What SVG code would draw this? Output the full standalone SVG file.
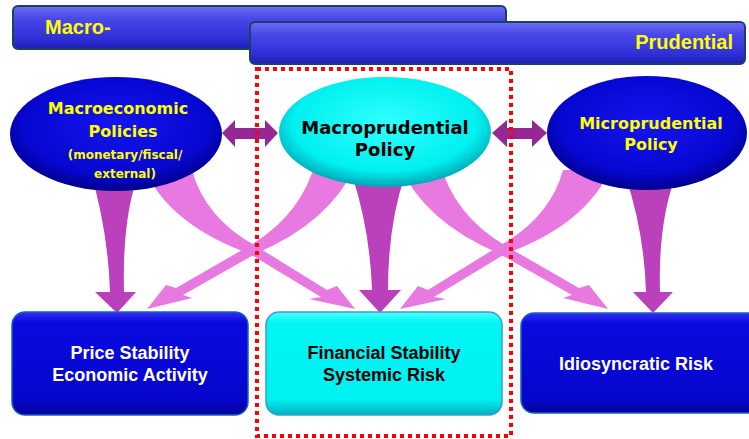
<svg xmlns="http://www.w3.org/2000/svg" width="749" height="439" viewBox="0 0 749 439">
<defs>
<linearGradient id="gBar" x1="0" y1="0" x2="0" y2="1">
<stop offset="0" stop-color="#6C6CF6"/><stop offset="0.3" stop-color="#4848E8"/><stop offset="0.75" stop-color="#3030D8"/><stop offset="1" stop-color="#1E1EB4"/>
</linearGradient>
<radialGradient id="gBlueEll" cx="50%" cy="42%" r="58%">
<stop offset="0" stop-color="#1414EE"/><stop offset="0.75" stop-color="#0707D2"/><stop offset="1" stop-color="#00008C"/>
</radialGradient>
<radialGradient id="gCyanEll" cx="50%" cy="42%" r="58%">
<stop offset="0" stop-color="#30FFFF"/><stop offset="0.75" stop-color="#00F0F0"/><stop offset="1" stop-color="#00A5B5"/>
</radialGradient>
<linearGradient id="gBlueBox" x1="0" y1="0" x2="0" y2="1">
<stop offset="0" stop-color="#3030F2"/><stop offset="0.1" stop-color="#0A0AE0"/><stop offset="0.85" stop-color="#0606CC"/><stop offset="1" stop-color="#03039A"/>
</linearGradient>
<linearGradient id="gCyanBox" x1="0" y1="0" x2="0" y2="1">
<stop offset="0" stop-color="#50FFFF"/><stop offset="0.1" stop-color="#00F6F6"/><stop offset="0.85" stop-color="#00F0F0"/><stop offset="1" stop-color="#00B0C2"/>
</linearGradient>
<style>
.bar{fill:url(#gBar);stroke:#1C3F66;stroke-width:2}
.ybig{font-family:"Liberation Sans",Arial,sans-serif;font-weight:bold;font-size:20px;fill:#FFFF00}
.ell{font-family:"DejaVu Sans",Verdana,sans-serif;font-weight:bold;text-anchor:middle}
.box{font-family:"Liberation Sans",Arial,sans-serif;font-weight:bold;font-size:18px;text-anchor:middle}
.down{fill:#BB40BB}
.diag{fill:#E879E1}
.dbl{fill:#962896}
.bbox{fill:url(#gBlueBox);stroke:#1A5FC0;stroke-width:1.5}
.cbox{fill:url(#gCyanBox);stroke:#3A9EC8;stroke-width:1.5}
</style>
</defs>
<rect width="749" height="439" fill="#FFFFFF"/>

<g id="bar-macro">
<rect class="bar" x="13" y="6" width="493" height="43" rx="5"/>
<text class="ybig" x="45" y="34">Macro-</text>
</g>
<g id="bar-prudential">
<rect class="bar" x="250" y="22" width="495" height="42" rx="5"/>
<text class="ybig" x="733" y="49" text-anchor="end">Prudential</text>
</g>

<g id="connectors">
<path class="diag" d="M145,170 Q170,225 250,254 L321,297 L309,299 L355,309 L337,286 L327,290 L256,246 Q205,218 192,170 Z"/>
<path class="diag" d="M316,160 Q302,215 249,246 L176,288 L166,285 L147,309 L192,298 L183,295 L257,253 Q330,222 356,165 Z"/>
<g transform="translate(755,0) scale(-1,1)">
<path class="diag" d="M145,170 Q170,225 250,254 L321,297 L309,299 L355,309 L337,286 L327,290 L256,246 Q205,218 192,170 Z"/>
<path class="diag" d="M316,160 Q302,215 249,246 L176,288 L166,285 L147,309 L192,298 L183,295 L257,253 Q330,222 356,165 Z"/>
</g>
<path class="down" d="M90,170 Q108,230 110,292 L95,292 L117,313 L136,292 L124,292 Q122,215 140,170 Z"/>
<path class="down" d="M352,175 Q370,230 372,290 L359,290 L380,313 L401,290 L388,290 Q388,225 405,175 Z"/>
<path class="down" d="M625,175 Q644,230 646,292 L633,292 L653,313 L673,292 L660,292 Q658,222 676,175 Z"/>
<path class="dbl" d="M222,133 L235,120 L235,128 L265,128 L265,120 L278,133 L265,147 L265,139 L235,139 L235,147 Z"/>
<path class="dbl" d="M492,133 L507,120 L507,128 L532,128 L532,120 L547,133 L532,147 L532,139 L507,139 L507,147 Z"/>
</g>

<g id="macroeconomic-policies">
<ellipse cx="116" cy="134" rx="106" ry="57" fill="url(#gBlueEll)"/>
<text class="ell" x="118" y="114" font-size="16" fill="#FFFF00">Macroeconomic</text>
<text class="ell" x="123" y="137" font-size="16" fill="#FFFF00">Policies</text>
<text class="ell" x="125" y="159" font-size="12" fill="#FFFF00">(monetary/fiscal/</text>
<text class="ell" x="125" y="178" font-size="12" fill="#FFFF00">external)</text>
</g>
<g id="macroprudential-policy">
<ellipse cx="385" cy="132" rx="106" ry="55" fill="url(#gCyanEll)"/>
<text class="ell" x="385" y="134" font-size="18" fill="#000000">Macroprudential</text>
<text class="ell" x="385" y="156" font-size="18" fill="#000000">Policy</text>
</g>
<g id="microprudential-policy">
<ellipse cx="647" cy="133" rx="100" ry="57" fill="url(#gBlueEll)"/>
<text class="ell" x="651" y="129" font-size="16" fill="#FFFF00">Microprudential</text>
<text class="ell" x="651" y="150" font-size="16" fill="#FFFF00">Policy</text>
</g>

<g id="price-stability">
<rect class="bbox" x="12" y="312" width="236" height="103" rx="13"/>
<text class="box" x="130" y="359" fill="#FFFFFF">Price Stability</text>
<text class="box" x="130" y="381" fill="#FFFFFF">Economic Activity</text>
</g>
<g id="financial-stability">
<rect class="cbox" x="266" y="312" width="236" height="103" rx="13"/>
<text class="box" x="384" y="359" fill="#000000">Financial Stability</text>
<text class="box" x="384" y="381" fill="#000000">Systemic Risk</text>
</g>
<g id="idiosyncratic-risk">
<rect class="bbox" x="521" y="313" width="245" height="100" rx="13"/>
<text class="box" x="636" y="370" fill="#FFFFFF">Idiosyncratic Risk</text>
</g>

<g id="macroprudential-frame">
<rect x="257" y="69" width="254" height="367" fill="none" stroke="#FF0000" stroke-width="4" stroke-dasharray="4 4"/>
</g>
</svg>
